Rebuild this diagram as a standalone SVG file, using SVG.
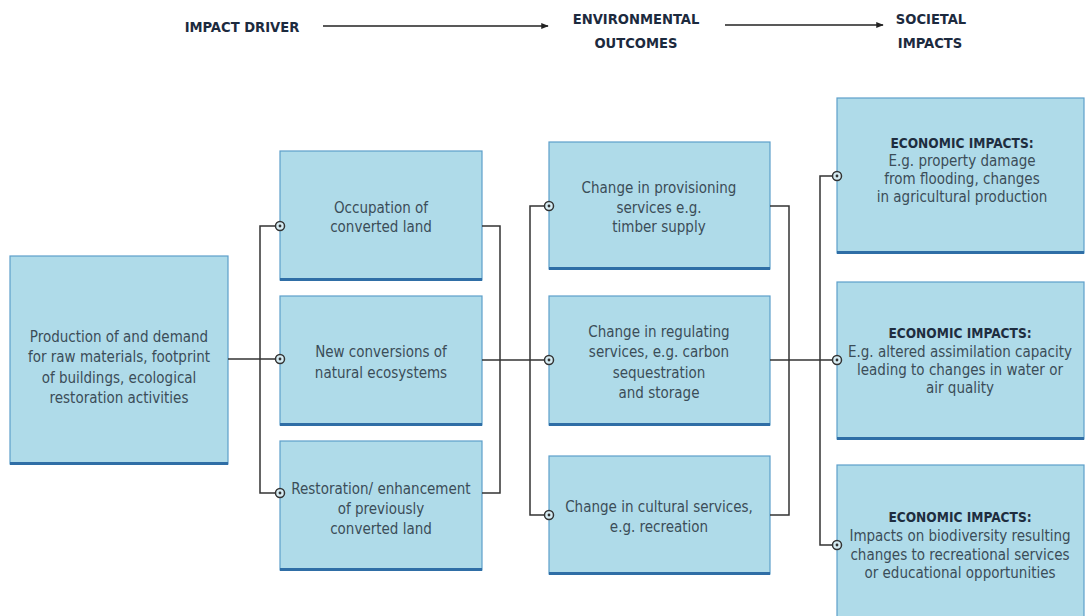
<svg xmlns="http://www.w3.org/2000/svg" width="1086" height="616" viewBox="0 0 1086 616">
<style>
.box{fill:#afdbe9;stroke:#5d9fca;stroke-width:1.2}
.bar{fill:#2f6ea6}
.t{font-family:"Liberation Sans Narrow","DejaVu Sans Condensed",sans-serif;font-size:15px;fill:#3b4d58;text-anchor:middle}
.s{font-size:15px}
.b{font-weight:bold;fill:#1e2d3f;font-size:13.6px}
.h{font-family:"Liberation Sans Narrow","DejaVu Sans Condensed",sans-serif;font-size:14.6px;font-weight:bold;fill:#1c2a3e;text-anchor:middle}
.ln{fill:none;stroke:#333;stroke-width:1.5}
.ar{fill:none;stroke:#222;stroke-width:1.5}
</style>
<defs>
<marker id="ah" viewBox="0 0 10 10" refX="9" refY="5" markerWidth="5" markerHeight="5" orient="auto">
<path d="M0,1 L10,5 L0,9 z" fill="#222"/>
</marker>
<g id="dot"><circle r="4.5" fill="#d6ecf3" stroke="#333" stroke-width="1.5"/><circle r="1.4" fill="#333"/></g>
</defs>
<rect width="1086" height="616" fill="#ffffff"/>

<g id="header">
<text class="h" x="242" y="32">IMPACT DRIVER</text>
<text class="h" x="636" y="24">ENVIRONMENTAL</text>
<text class="h" x="636" y="48">OUTCOMES</text>
<text class="h" x="931" y="24">SOCIETAL</text>
<text class="h" x="930" y="48">IMPACTS</text>
</g>

<g id="driver">
<rect class="box" x="10" y="256" width="218" height="208"/>
<rect class="bar" x="10" y="462" width="218" height="3"/>
<text class="t" x="119" y="342">Production of and demand</text>
<text class="t" x="119" y="362">for raw materials, footprint</text>
<text class="t" x="119" y="383">of buildings, ecological</text>
<text class="t" x="119" y="403">restoration activities</text>
</g>

<g id="occupation">
<rect class="box" x="280" y="151" width="202" height="129"/>
<rect class="bar" x="280" y="278" width="202" height="3"/>
<text class="t" x="381" y="213">Occupation of</text>
<text class="t" x="381" y="232">converted land</text>
</g>

<g id="conversions">
<rect class="box" x="280" y="296" width="202" height="129"/>
<rect class="bar" x="280" y="423" width="202" height="3"/>
<text class="t" x="381" y="357">New conversions of</text>
<text class="t" x="381" y="378">natural ecosystems</text>
</g>

<g id="restoration">
<rect class="box" x="280" y="441" width="202" height="129"/>
<rect class="bar" x="280" y="568" width="202" height="3"/>
<text class="t" x="381" y="494">Restoration/ enhancement</text>
<text class="t" x="381" y="514">of previously</text>
<text class="t" x="381" y="534">converted land</text>
</g>

<g id="provisioning">
<rect class="box" x="549" y="142" width="221" height="127"/>
<rect class="bar" x="549" y="267" width="221" height="3"/>
<text class="t" x="659" y="193">Change in provisioning</text>
<text class="t" x="659" y="213">services e.g.</text>
<text class="t" x="659" y="232">timber supply</text>
</g>

<g id="regulating">
<rect class="box" x="549" y="296" width="221" height="129"/>
<rect class="bar" x="549" y="423" width="221" height="3"/>
<text class="t" x="659" y="337">Change in regulating</text>
<text class="t" x="659" y="357">services, e.g. carbon</text>
<text class="t" x="659" y="378">sequestration</text>
<text class="t" x="659" y="398">and storage</text>
</g>

<g id="cultural">
<rect class="box" x="549" y="456" width="221" height="118"/>
<rect class="bar" x="549" y="572" width="221" height="3"/>
<text class="t" x="659" y="512">Change in cultural services,</text>
<text class="t" x="659" y="532">e.g. recreation</text>
</g>

<g id="impact1">
<rect class="box" x="837" y="98" width="247" height="155"/>
<rect class="bar" x="837" y="251" width="247" height="3"/>
<text class="t b" x="962" y="148">ECONOMIC IMPACTS:</text>
<text class="t s" x="962" y="166">E.g. property damage</text>
<text class="t s" x="962" y="184">from flooding, changes</text>
<text class="t s" x="962" y="202">in agricultural production</text>
</g>

<g id="impact2">
<rect class="box" x="837" y="282" width="247" height="157"/>
<rect class="bar" x="837" y="437" width="247" height="3"/>
<text class="t b" x="960" y="338">ECONOMIC IMPACTS:</text>
<text class="t s" x="960" y="357">E.g. altered assimilation capacity</text>
<text class="t s" x="960" y="375">leading to changes in water or</text>
<text class="t s" x="960" y="393">air quality</text>
</g>

<g id="impact3">
<rect class="box" x="837" y="465" width="247" height="160"/>
<text class="t b" x="960" y="522">ECONOMIC IMPACTS:</text>
<text class="t s" x="960" y="541">Impacts on biodiversity resulting</text>
<text class="t s" x="960" y="560">changes to recreational services</text>
<text class="t s" x="960" y="578">or educational opportunities</text>
</g>

<g id="connectors">
<line class="ar" x1="323" y1="26" x2="548" y2="26" marker-end="url(#ah)"/>
<line class="ar" x1="725" y1="25" x2="883" y2="25" marker-end="url(#ah)"/>
<path class="ln" d="M228,359 H280"/>
<path class="ln" d="M280,226 H260 V493 H280"/>
<path class="ln" d="M482,226 H500 V493 H482"/>
<path class="ln" d="M482,360 H549"/>
<path class="ln" d="M549,206 H530 V515 H549"/>
<path class="ln" d="M770,206 H789 V515 H770"/>
<path class="ln" d="M770,360 H837"/>
<path class="ln" d="M837,176 H820 V545 H837"/>
<use href="#dot" x="280" y="359"/>
<use href="#dot" x="280" y="226"/>
<use href="#dot" x="280" y="493"/>
<use href="#dot" x="549" y="206"/>
<use href="#dot" x="549" y="360"/>
<use href="#dot" x="549" y="515"/>
<use href="#dot" x="837" y="176"/>
<use href="#dot" x="837" y="360"/>
<use href="#dot" x="837" y="545"/>
</g>
</svg>
